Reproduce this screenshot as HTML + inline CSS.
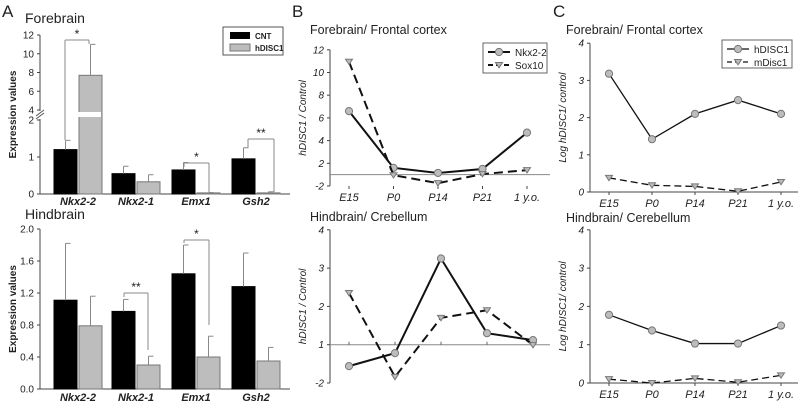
<!DOCTYPE html>
<html><head><meta charset="utf-8"><style>
html,body{margin:0;padding:0;background:#fff;}
svg{display:block;font-family:"Liberation Sans",Arial,sans-serif;}
</style></head><body>
<svg id="fig" width="800" height="404" viewBox="0 0 800 404" xmlns="http://www.w3.org/2000/svg">
<g id="root"></g>
</svg>
<script>
// Panel A data
const genes = ["Nkx2-2","Nkx2-1","Emx1","Gsh2"];
const foreCNT = [1.2,0.55,0.65,0.95];
const foreCNTerr = [1.45,0.75,0.85,1.25];
const foreHD = [7.7,0.33,0.03,0.03];
const foreHDerr = [11,0.52,0.04,0.06];
const hindCNT = [1.11,0.97,1.44,1.28];
const hindCNTerr = [1.82,1.12,1.8,1.7];
const hindHD = [0.79,0.3,0.4,0.35];
const hindHDerr = [1.16,0.41,0.66,0.52];
const foreTickVals = [0,1,2,4,6,8,10,12];
const foreTickLabels = ["0","1","2","4","6","8","10","12"];
const hindTickVals = [0,0.4,0.8,1.2,1.6,2.0];
const hindTickLabels = ["0.0","0.4","0.8","1.2","1.6","2.0"];
// Panel B/C data
const timepoints = ["E15","P0","P14","P21","1 y.o."];
const bForeNkx = [6.6,1.6,1.15,1.5,4.7];
const bForeSox = [10.95,0.95,0.25,1.05,1.4];
const bHindNkx = [0.44,0.78,3.25,1.3,1.12];
const bHindSox = [2.35,0.16,1.7,1.9,0.99];
const bForeTickVals = [0,2,4,6,8,10,12];
const bForeTickLabels = ["-2","2","4","6","8","10","12"];
const bHindTickVals = [0,1,2,3,4];
const bHindTickLabels = ["-2","1","2","3","4"];
const cForeH = [3.18,1.42,2.1,2.47,2.1];
const cForeM = [0.38,0.18,0.15,0.02,0.27];
const cHindH = [1.78,1.37,1.03,1.03,1.5];
const cHindM = [0.1,0.0,0.12,0.02,0.2];
const cTickVals = [0,1,2,3,4];
const cTickLabels = ["0","1","2","3","4"];

const NS="http://www.w3.org/2000/svg";
const root=document.getElementById('root');
function el(tag,attrs,parent,txt){const e=document.createElementNS(NS,tag);for(const k in attrs)e.setAttribute(k,attrs[k]);if(txt!==undefined)e.textContent=txt;(parent||root).appendChild(e);return e;}
function grp(name){const g=el('g',{});


return g;}
function line(p,x1,y1,x2,y2,st,w,dash){return el('line',{x1,y1,x2,y2,stroke:st||'#000','stroke-width':w||1,'stroke-dasharray':dash||'none'},p);}
function text(p,x,y,t,o){o=o||{};return el('text',{x,y,'font-size':o.fs||10,'text-anchor':o.a||'start','font-weight':o.fw||'normal','font-style':o.fi||'normal',fill:o.c||'#222',transform:o.tr||''},p,t);}

[["A",2,17],["B",292,17],["C",553,17]].forEach(d=>{const t=text(root,d[1],d[2],d[0],{fs:17});

});

// ---- Panel A ----
const groupX=[78,136,196,256]; const bw=23;
function barChart(name,title,titleY,yScale,tickVals,tickLabels,axisTop,axisBot,cnt,cntE,hd,hdE,labelY,brk){
  const g=grp(name);
  const t=text(g,25,titleY,title,{fs:14});
  
  
  line(g,40,axisTop,40,axisBot,'#444');
  line(g,40,axisBot,290,axisBot,'#444');
  tickVals.forEach((v,i)=>{const y=yScale(v);line(g,37,y,40,y,'#444');text(g,34,y+3.5,tickLabels[i],{fs:10,a:'end'});});
  const yt=text(g,0,0,'Expression values',{fs:10,fw:'bold',a:'middle',tr:`translate(16,${(axisTop+axisBot)/2}) rotate(-90)`});
  
  
  genes.forEach((gn,i)=>{
    const xc=groupX[i];
    [[cnt[i],cntE[i],xc-bw-1,'#000','#000','cnt'],[hd[i],hdE[i],xc+1,'#bdbdbd','#777','hdisc1']].forEach(b=>{
      const y=yScale(b[0]);
      const r=el('rect',{x:b[2],y:y,width:bw,height:axisBot-y,fill:b[3],stroke:b[4],'stroke-width':1},g);
      
      
      const ye=yScale(b[1]);const xm=b[2]+bw/2;
      line(g,xm,y,xm,ye,'#888');line(g,xm,ye,xm+5,ye,'#888');
    });
    const lb=text(g,xc,labelY,gn,{fs:11,fw:'bold',fi:'italic',a:'middle'});
    
    
  });
  if(brk){
    el('rect',{x:78,y:brk-3,width:23,height:5,fill:'#fff'},g);
    el('rect',{x:38,y:brk-4,width:5,height:8,fill:'#fff'},g);
    line(g,36,brk+1,44,brk-5,'#555');line(g,36,brk+4,44,brk-2,'#555');
  }
  return g;
}
function yFore(v){return v<=2?194-v*37:110-(v-4)*9.375;}
function yHind(v){return 389-v*80;}
const gA1=barChart('forebrain-bar-chart','Forebrain',23,yFore,foreTickVals,foreTickLabels,35,194,foreCNT,foreCNTerr,foreHD,foreHDerr,205,115);
const gA2=barChart('hindbrain-bar-chart','Hindbrain',219,yHind,hindTickVals,hindTickLabels,229,389,hindCNT,hindCNTerr,hindHD,hindHDerr,401,null);
function bracket(p,x1,x2,yTop,yl,yr,star){line(p,x1,yTop,x2,yTop,'#888');line(p,x1,yTop,x1,yl,'#888');line(p,x2,yTop,x2,yr,'#888');
  const s=text(p,(x1+x2)/2,yTop-2,star,{fs:12,a:'middle'});
  
  }
bracket(gA1,65,89,40,140,44,'*');
bracket(gA1,184,209,163,167,192,'*');
bracket(gA1,248,274,139,148,192,'**');
bracket(gA2,124,148,293,297,350,'**');
bracket(gA2,184,209,240,243,325,'*');
const lgA=grp('legend-a');
el('rect',{x:223,y:27,width:60,height:28,fill:'#fff',stroke:'#555'},lgA);
el('rect',{x:230,y:32,width:20,height:7,fill:'#000'},lgA);
el('rect',{x:230,y:44,width:20,height:7,fill:'#bdbdbd',stroke:'#777'},lgA);
text(lgA,255,39,'CNT',{fs:8,fw:'bold'});text(lgA,255,51,'hDISC1',{fs:8,fw:'bold'});

// ---- Line charts ----
function marker(p,type,x,y){
  if(type==='c'){return el('circle',{cx:x,cy:y,r:3.6,fill:'#bcbcbc',stroke:'#777','stroke-width':1},p);}
  return el('path',{d:`M${x-3.5},${y-2.5} L${x+3.5},${y-2.5} L${x},${y+2.8} Z`,fill:'#bcbcbc',stroke:'#777','stroke-width':1},p);
}
function lineChart(name,o){
  const g=grp(name);
  const t=text(g,o.tx,o.ty,o.title,{fs:12.5});
  
  
  const ys=v=>o.y0-(v-o.v0)*o.k;
  line(g,o.ax,ys(o.ticks[o.ticks.length-1]),o.ax,o.y0,'#444');
  if(o.xaxis)line(g,o.ax,o.y0,o.ax+o.w,o.y0,'#444');
  if(o.ref!==undefined)line(g,o.ax,ys(o.ref),o.ax+o.w,ys(o.ref),'#888');
  o.ticks.forEach((v,i)=>{const y=ys(v);line(g,o.ax-3,y,o.ax,y,'#444');text(g,o.ax-6,y+3.5,o.tl[i],{fs:10,a:'end',fi:'italic'});});
  const yt=text(g,0,0,o.ytitle,{fs:10,fi:'italic',a:'middle',tr:`translate(${o.ax-24},${(ys(o.ticks[o.ticks.length-1])+o.y0)/2}) rotate(-90)`});
  
  
  const xs=i=>o.x0+i*o.dx;
  timepoints.forEach((tp,i)=>{
    if(o.xlabels){line(g,xs(i),o.y0,xs(i),o.y0+3,'#444');
      const l=text(g,xs(i),o.y0+15,tp,{fs:11,fi:'italic',a:'middle'});
      
      }
    else {const yr=ys(o.ref);line(g,xs(i),yr,xs(i),yr-3,'#666');}
  });
  o.series.forEach(s=>{
    const pts=s.data.map((v,i)=>xs(i)+','+ys(v)).join(' ');
    const pl=el('polyline',{points:pts,fill:'none',stroke:'#111','stroke-width':s.w,'stroke-dasharray':s.dash},g);
    
    
    s.data.forEach((v,i)=>{const m=marker(g,s.m,xs(i),ys(v));
      
      });
  });
  return g;
}
lineChart('b-forebrain-chart',{tx:310,ty:34,title:'Forebrain/ Frontal cortex',ax:330,y0:186,v0:0,k:11.35,w:220,ref:1,xaxis:false,
  ticks:bForeTickVals,tl:bForeTickLabels,ytitle:'hDISC1 / Control',x0:349,dx:44.5,xlabels:true,
  series:[{name:'Nkx2-2',data:bForeNkx,m:'c',w:2,dash:'none'},{name:'Sox10',data:bForeSox,m:'t',w:2,dash:'9,5'}]});
lineChart('b-hindbrain-chart',{tx:310,ty:221,title:'Hindbrain/ Crebellum',ax:330,y0:383,v0:0,k:38.3,w:220,ref:1,xaxis:false,
  ticks:bHindTickVals,tl:bHindTickLabels,ytitle:'hDISC1 / Control',x0:349,dx:46,xlabels:false,
  series:[{name:'Nkx2-2',data:bHindNkx,m:'c',w:2,dash:'none'},{name:'Sox10',data:bHindSox,m:'t',w:2,dash:'9,5'}]});
lineChart('c-forebrain-chart',{tx:566,ty:34,title:'Forebrain/ Frontal cortex',ax:590,y0:192,v0:0,k:37.2,w:208,xaxis:true,
  ticks:cTickVals,tl:cTickLabels,ytitle:'Log hDISC1/ control',x0:609,dx:43,xlabels:true,
  series:[{name:'hDISC1',data:cForeH,m:'c',w:1.3,dash:'none'},{name:'mDisc1',data:cForeM,m:'t',w:1.3,dash:'7,4'}]});
lineChart('c-hindbrain-chart',{tx:566,ty:222,title:'Hindbrain/ Cerebellum',ax:590,y0:383,v0:0,k:38.3,w:208,xaxis:true,
  ticks:cTickVals,tl:cTickLabels,ytitle:'Log hDISC1/ control',x0:609,dx:43,xlabels:true,
  series:[{name:'hDISC1',data:cHindH,m:'c',w:1.3,dash:'none'},{name:'mDisc1',data:cHindM,m:'t',w:1.3,dash:'7,4'}]});

function legend(name,x,y,w,h,labels,sw,dash){
  const g=grp(name);
  el('rect',{x,y,width:w,height:h,fill:'#fff',stroke:'#666'},g);
  labels.forEach((lb,i)=>{const yy=y+9+i*13;
    line(g,x+5,yy,x+27,yy,'#111',sw,i?dash:'none');marker(g,i?'t':'c',x+16,yy);
    text(g,x+32,yy+4,lb,{fs:10});});
}
legend('legend-b',483,43,64,30,['Nkx2-2','Sox10'],2,'5,3');
legend('legend-c',722,40,70,28,['hDISC1','mDisc1'],1.3,'5,3');
</script>
</body></html>
